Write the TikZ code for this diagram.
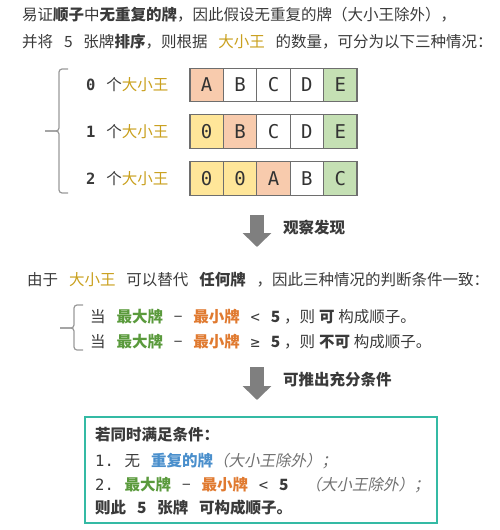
\documentclass[tikz,border=0pt]{standalone}
\usepackage{fontspec}
\setmainfont{Noto Sans CJK SC}
\newfontfamily\cardfont{DejaVu Sans Mono}
\newfontfamily\slantfont{Noto Sans CJK SC}[FakeSlant=0.2]
\usetikzlibrary{arrows.meta,positioning}

\definecolor{TextGray}{HTML}{3A3A3A}
\definecolor{JokerGold}{HTML}{C9A01E}
\definecolor{MaxGreen}{HTML}{5A9A3C}
\definecolor{MinOrange}{HTML}{E07A30}
\definecolor{DupBlue}{HTML}{4A8FCC}
\definecolor{CardRed}{HTML}{F8CBAD}
\definecolor{CardGreen}{HTML}{C5E0B4}
\definecolor{CardYellow}{HTML}{FFE699}
\definecolor{CardEdge}{HTML}{6E6E6E}
\definecolor{ArrowGray}{HTML}{7F7F7F}
\definecolor{BoxTeal}{RGB}{52,186,164}
\definecolor{NoteGray}{HTML}{707070}

\newcommand{\gap}{\hspace{0.7em}}
\newcommand{\sgap}{\hspace{0.25em}}
\newcommand{\Joker}{\textcolor{JokerGold}{大小王}}
\newcommand{\BigCard}{\textcolor{MaxGreen}{\textbf{最大牌}}}
\newcommand{\SmallCard}{\textcolor{MinOrange}{\textbf{最小牌}}}
\newcommand{\Except}{\textcolor{NoteGray}{\slantfont（大小王除外）；}}

\begin{document}
\begin{tikzpicture}[x=1pt, y=-1pt,
	txt/.style={anchor=west, inner sep=0pt, text=TextGray, font=\fontsize{15.5}{18}\selectfont},
	card/.style={draw=CardEdge, line width=1.3pt, outer sep=0pt, inner sep=0pt,
		minimum width=33.4pt, minimum height=33.4pt, text=black!80,
		font=\cardfont\fontsize{19}{19}\selectfont},
	brace/.style={draw=gray!80, line width=1.2pt, rounded corners=3pt},
	bigarrow/.style={draw=ArrowGray, line width=14pt, -{Triangle[width=28pt,length=14pt]}},
	condbox/.style={draw=BoxTeal, line width=1.5pt}
	]
	\useasboundingbox (0,0) rectangle (500,530);
	
	% INTRO
	\node[txt] (introA) at (22,15) {易证\textbf{顺子}中\textbf{无重复的牌}，因此假设无重复的牌（大小王除外），};
	\node[txt] (introB) at (22,42) {并将\gap 5\gap 张牌\textbf{排序}，则根据\gap\Joker\gap 的数量，可分为以下三种情况：};
	
	% BRACE
	\draw[brace] (68,69) -- (59,69) -- (59,131) -- (45,131);
	\draw[brace] (45,131) -- (59,131) -- (59,193) -- (68,193);
	
	% LABELS
	\node[txt] (zeroLbl) at (86,85) {\textbf{\cardfont 0}\gap 个\Joker};
	\node[txt] (oneLbl) at (86,131.5) {\textbf{\cardfont 1}\gap 个\Joker};
	\node[txt] (twoLbl) at (86,178.5) {\textbf{\cardfont 2}\gap 个\Joker};
	
	% ZERO JOKERS
	\node[card, fill=CardRed] (r0c1) at (206.7,85) {A};
	\node[card, right=0pt of r0c1] (r0c2) {B};
	\node[card, right=0pt of r0c2] (r0c3) {C};
	\node[card, right=0pt of r0c3] (r0c4) {D};
	\node[card, fill=CardGreen, right=0pt of r0c4] (r0c5) {E};
	
	% ONE JOKER
	\node[card, fill=CardYellow] (r1c1) at (206.7,131.5) {0};
	\node[card, fill=CardRed, right=0pt of r1c1] (r1c2) {B};
	\node[card, right=0pt of r1c2] (r1c3) {C};
	\node[card, right=0pt of r1c3] (r1c4) {D};
	\node[card, fill=CardGreen, right=0pt of r1c4] (r1c5) {E};
	
	% TWO JOKERS
	\node[card, fill=CardYellow] (r2c1) at (206.7,178.5) {0};
	\node[card, fill=CardYellow, right=0pt of r2c1] (r2c2) {0};
	\node[card, fill=CardRed, right=0pt of r2c2] (r2c3) {A};
	\node[card, right=0pt of r2c3] (r2c4) {B};
	\node[card, fill=CardGreen, right=0pt of r2c4] (r2c5) {C};
	
	% OBSERVE
	\coordinate (obsTop) at (257,215);
	\coordinate (obsTip) at (257,247);
	\draw[bigarrow] (obsTop) -- (obsTip);
	\node[txt] (obsLbl) at (283,228) {\textbf{观察发现}};
	
	% SAME CONDITION
	\node[txt] (same) at (27,280) {由于\gap\Joker\gap 可以替代\gap\textbf{任何牌}\gap，因此三种情况的判断条件一致：};
	\draw[brace] (83,305) -- (74,305) -- (74,328) -- (60,328);
	\draw[brace] (60,328) -- (74,328) -- (74,350) -- (83,350);
	\node[txt] (canLine) at (90,317) {当\gap\BigCard\gap −\gap\SmallCard\gap{\cardfont <}\gap\textbf{5}\sgap，则\sgap\textbf{可}\sgap 构成顺子。};
	\node[txt] (cannotLine) at (90,342) {当\gap\BigCard\gap −\gap\SmallCard\gap{\cardfont ≥}\gap\textbf{5}\sgap，则\sgap\textbf{不可}\sgap 构成顺子。};
	
	% DEDUCE
	\coordinate (dedTop) at (257,367);
	\coordinate (dedTip) at (257,400);
	\draw[bigarrow] (dedTop) -- (dedTip);
	\node[txt] (dedLbl) at (283,380) {\textbf{可推出充分条件}};
	
	% RESULT
	\draw[condbox] (85,417) rectangle (437,523);
	\node[txt] (condHead) at (95,435) {\textbf{若同时满足条件：}};
	\node[txt] (condOne) at (95,461) {{\cardfont 1.}\gap 无\gap\textcolor{DupBlue}{\textbf{重复的牌}}\Except};
	\node[txt] (condTwo) at (95,485) {{\cardfont 2.}\gap\BigCard\gap −\gap\SmallCard\gap{\cardfont <}\gap\textbf{5}\gap\hspace{0.4em}\Except};
	\node[txt] (condEnd) at (95,508) {\textbf{则此\gap 5\gap 张牌\gap 可构成顺子。}};
\end{tikzpicture}
\end{document}
